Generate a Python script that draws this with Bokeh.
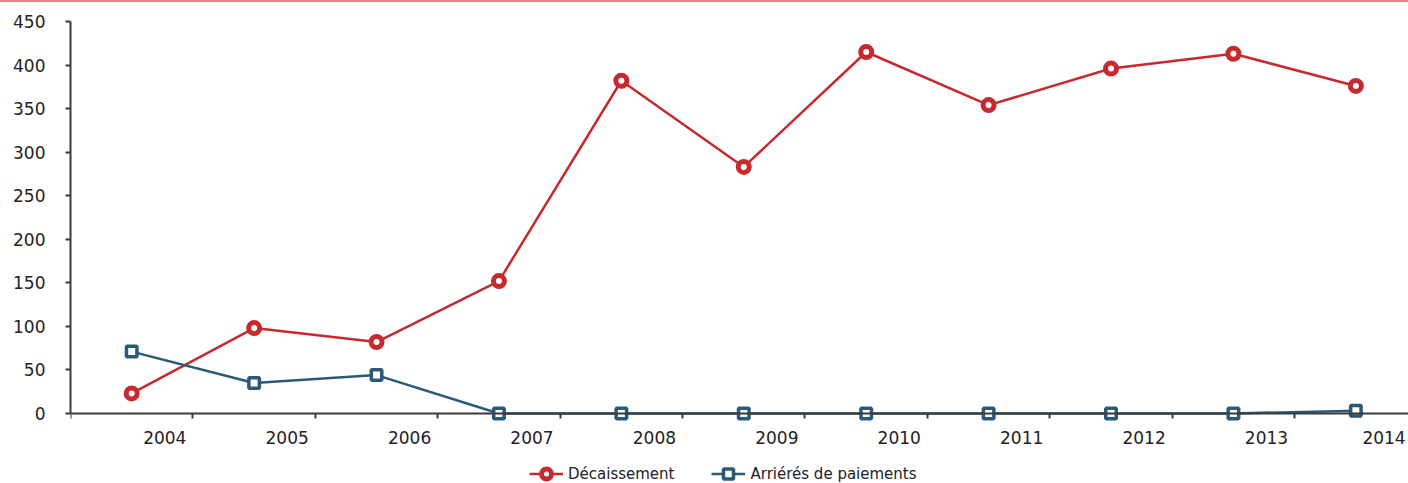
from bokeh.plotting import figure
from bokeh.models import FixedTicker, Legend, LegendItem, Range1d, Div, LinearAxis
from bokeh.layouts import column
from bokeh.embed import file_html
from bokeh.resources import INLINE

years = ["2004", "2005", "2006", "2007", "2008", "2009", "2010", "2011", "2012", "2013", "2014"]
decaissement = [23, 98, 82, 152, 382, 283, 415, 354, 396, 413, 376]
arrieres = [71, 35, 44, 0, 0, 0, 0, 0, 0, 0, 3]
y_ticks = [0, 50, 100, 150, 200, 250, 300, 350, 400, 450]

xs = list(range(len(years)))
label_pos = [i + 0.27 for i in xs[:-1]] + [xs[-1] + 0.23]
boundaries = [i - 0.5 for i in xs]

FONT = "DejaVu Sans"
RED = "#c62a2f"
BLUE = "#2a5a78"
AXIS = "#3a3a3a"
TEXT = "#222222"

p = figure(width=1408, height=454, output_backend="svg", toolbar_location=None,
           x_range=Range1d(-0.5, 10.43), y_range=Range1d(-15, 450),
           min_border_left=70, min_border_right=0, min_border_top=19, min_border_bottom=30)
p.outline_line_color = None
p.xgrid.visible = False
p.ygrid.visible = False

# y axis
p.yaxis.ticker = FixedTicker(ticks=y_ticks, minor_ticks=[])
p.yaxis.bounds = (0, 450)
p.yaxis.axis_line_color = AXIS
p.yaxis.axis_line_width = 2
p.yaxis.major_tick_line_color = AXIS
p.yaxis.major_tick_line_width = 2
p.yaxis.major_tick_out = 5
p.yaxis.major_tick_in = 0
p.yaxis.major_label_standoff = 20
p.yaxis.major_label_text_font = FONT
p.yaxis.major_label_text_font_size = "17px"
p.yaxis.major_label_text_color = TEXT

# x axis labels (below the frame, no line, no ticks)
p.xaxis.ticker = FixedTicker(ticks=label_pos, minor_ticks=[])
p.xaxis.major_label_overrides = {pos: y for pos, y in zip(label_pos, years)}
p.xaxis.axis_line_color = None
p.xaxis.major_tick_line_color = None
p.xaxis.minor_tick_line_color = None
p.xaxis.major_tick_out = 0
p.xaxis.major_tick_in = 0
p.xaxis.major_label_standoff = 4
p.xaxis.major_label_text_font = FONT
p.xaxis.major_label_text_font_size = "17px"
p.xaxis.major_label_text_color = TEXT

# x axis line at zero with category boundary ticks
zero_axis = LinearAxis(fixed_location=0, ticker=FixedTicker(ticks=[], minor_ticks=boundaries),
                       axis_line_color=AXIS, axis_line_width=2,
                       major_tick_line_color=None, major_label_text_color=None,
                       minor_tick_line_color=AXIS, minor_tick_line_width=2,
                       minor_tick_in=5, minor_tick_out=0)
p.add_layout(zero_axis, "above")

p.line(xs, decaissement, line_color=RED, line_width=2.5)
p.scatter(xs, decaissement, marker="circle", size=11, line_color=RED, line_width=5, fill_color="white")
p.line(xs, arrieres, line_color=BLUE, line_width=2.5)
p.scatter(xs, arrieres, marker="square", size=10.5, line_color=BLUE, line_width=3.5, fill_color="white")

# legend strip
q = figure(width=1408, height=27, output_backend="svg", toolbar_location=None,
           x_range=Range1d(0, 1), y_range=Range1d(0, 1),
           min_border=0, x_axis_location=None, y_axis_location=None)
q.outline_line_color = None
q.xgrid.visible = False
q.ygrid.visible = False
ql1 = q.line([-10, -9], [-10, -9], line_color=RED, line_width=2.5)
qs1 = q.scatter([-10], [-10], marker="circle", size=11, line_color=RED, line_width=5, fill_color="white")
ql2 = q.line([-10, -9], [-10, -9], line_color=BLUE, line_width=2.5)
qs2 = q.scatter([-10], [-10], marker="square", size=10.5, line_color=BLUE, line_width=3.5, fill_color="white")

legend = Legend(items=[LegendItem(label="Décaissement", renderers=[ql1, qs1]),
                       LegendItem(label="Arriérés de paiements", renderers=[ql2, qs2])],
                orientation="horizontal", location=(459, -3))
legend.padding = 0
legend.margin = 0
legend.spacing = 37
legend.label_standoff = 5
legend.glyph_width = 34
legend.glyph_height = 25
legend.label_height = 25
legend.label_text_font = FONT
legend.label_text_font_size = "15px"
legend.label_text_color = TEXT
legend.border_line_color = None
legend.background_fill_alpha = 0
q.add_layout(legend, "center")

top_line = Div(text="", width=1408, height=2, styles={"background-color": "#e4898a", "margin": "0"})

layout = column(top_line, p, q, spacing=0)
open("out.html", "w").write(file_html(layout, INLINE))
